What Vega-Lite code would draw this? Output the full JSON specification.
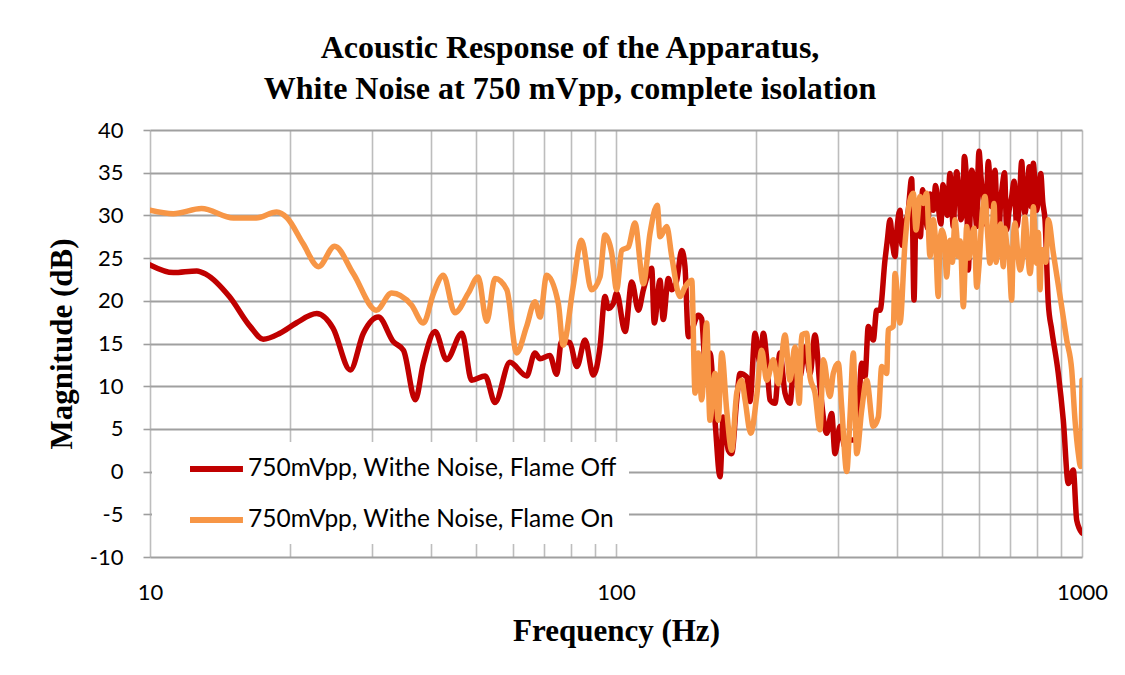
{
  "$schema": "https://vega.github.io/schema/vega-lite/v6.json",
  "width": 932,
  "height": 427,
  "autosize": "none",
  "padding": {"left": 150, "top": 130, "right": 43, "bottom": 118},
  "background": "white",
  "title": {
    "text": ["Acoustic Response of the Apparatus,", "White Noise at 750 mVpp, complete isolation"],
    "font": "Liberation Serif",
    "fontSize": 32,
    "fontWeight": "bold",
    "color": "black",
    "lineHeight": 41,
    "dx": -46,
    "offset": 13
  },
  "config": {
    "view": {"stroke": null},
    "axis": {"domain": false}
  },
  "datasets": {
    "pts": [
      {"f":10,"dB":24.2,"s":"Off"},{"f":11.22,"dB":23.3,"s":"Off"},{"f":12.6,"dB":23.5,"s":"Off"},{"f":13.2,"dB":23.1,"s":"Off"},{"f":14.8,"dB":20.5,"s":"Off"},{"f":16.4,"dB":17.0,"s":"Off"},{"f":17.5,"dB":15.5,"s":"Off"},{"f":19.0,"dB":16.2,"s":"Off"},{"f":20.6,"dB":17.4,"s":"Off"},{"f":22.8,"dB":18.5,"s":"Off"},{"f":24.7,"dB":16.8,"s":"Off"},{"f":26.9,"dB":11.9,"s":"Off"},{"f":28.7,"dB":16.2,"s":"Off"},{"f":30.9,"dB":18.1,"s":"Off"},{"f":33.3,"dB":15.2,"s":"Off"},{"f":35.0,"dB":14.2,"s":"Off"},{"f":37.1,"dB":8.4,"s":"Off"},{"f":38.6,"dB":12.7,"s":"Off"},{"f":40.9,"dB":16.4,"s":"Off"},{"f":43.3,"dB":13.1,"s":"Off"},{"f":46.7,"dB":16.2,"s":"Off"},{"f":49.0,"dB":10.7,"s":"Off"},{"f":52.4,"dB":11.2,"s":"Off"},{"f":55.0,"dB":8.1,"s":"Off"},{"f":59.2,"dB":12.8,"s":"Off"},{"f":64.3,"dB":11.2,"s":"Off"},{"f":67.0,"dB":13.9,"s":"Off"},{"f":68.7,"dB":13.2,"s":"Off"},{"f":72.1,"dB":13.6,"s":"Off"},{"f":74.6,"dB":11.4,"s":"Off"},{"f":76.4,"dB":15.3,"s":"Off"},{"f":79.6,"dB":15.1,"s":"Off"},{"f":82.4,"dB":12.3,"s":"Off"},{"f":85.8,"dB":15.4,"s":"Off"},{"f":89.4,"dB":11.3,"s":"Off"},{"f":92.4,"dB":14.6,"s":"Off"},{"f":94.7,"dB":20.5,"s":"Off"},{"f":96.3,"dB":19.1,"s":"Off"},{"f":98.7,"dB":19.7,"s":"Off"},{"f":100.3,"dB":20.9,"s":"Off"},{"f":104.6,"dB":16.4,"s":"Off"},{"f":108.1,"dB":22.2,"s":"Off"},{"f":111.7,"dB":18.9,"s":"Off"},{"f":114.5,"dB":21.3,"s":"Off"},{"f":119.3,"dB":23.8,"s":"Off"},{"f":120.8,"dB":17.4,"s":"Off"},{"f":124.3,"dB":22.4,"s":"Off"},{"f":126.3,"dB":17.8,"s":"Off"},{"f":129.5,"dB":22.6,"s":"Off"},{"f":131.7,"dB":21.3,"s":"Off"},{"f":135.0,"dB":22.4,"s":"Off"},{"f":138.4,"dB":25.9,"s":"Off"},{"f":140.6,"dB":24.0,"s":"Off"},{"f":143.0,"dB":15.8,"s":"Off"},{"f":150.2,"dB":18.3,"s":"Off"},{"f":152.7,"dB":17.9,"s":"Off"},{"f":155.2,"dB":13.1,"s":"Off"},{"f":159.1,"dB":13.9,"s":"Off"},{"f":163.1,"dB":6.0,"s":"Off"},{"f":167.2,"dB":-0.6,"s":"Off"},{"f":169.9,"dB":6.4,"s":"Off"},{"f":174.2,"dB":2.5,"s":"Off"},{"f":177.1,"dB":2.1,"s":"Off"},{"f":181.6,"dB":8.4,"s":"Off"},{"f":184.6,"dB":11.5,"s":"Off"},{"f":190.8,"dB":11.1,"s":"Off"},{"f":193.9,"dB":8.2,"s":"Off"},{"f":198.8,"dB":16.2,"s":"Off"},{"f":203.7,"dB":12.7,"s":"Off"},{"f":207.1,"dB":16.2,"s":"Off"},{"f":210.6,"dB":13.1,"s":"Off"},{"f":214.0,"dB":8.4,"s":"Off"},{"f":219.4,"dB":8.0,"s":"Off"},{"f":224.8,"dB":13.9,"s":"Off"},{"f":230.5,"dB":9.2,"s":"Off"},{"f":236.2,"dB":8.0,"s":"Off"},{"f":242.1,"dB":14.2,"s":"Off"},{"f":248.2,"dB":11.1,"s":"Off"},{"f":254.4,"dB":14.6,"s":"Off"},{"f":260.8,"dB":11.5,"s":"Off"},{"f":267.3,"dB":16.0,"s":"Off"},{"f":274.0,"dB":9.9,"s":"Off"},{"f":283.2,"dB":4.5,"s":"Off"},{"f":290.3,"dB":6.8,"s":"Off"},{"f":295.1,"dB":2.1,"s":"Off"},{"f":302.5,"dB":5.3,"s":"Off"},{"f":310.0,"dB":2.9,"s":"Off"},{"f":315.1,"dB":3.7,"s":"Off"},{"f":328.5,"dB":3.7,"s":"Off"},{"f":336.7,"dB":12.7,"s":"Off"},{"f":342.2,"dB":11.1,"s":"Off"},{"f":347.9,"dB":17.0,"s":"Off"},{"f":356.5,"dB":15.4,"s":"Off"},{"f":362.6,"dB":18.9,"s":"Off"},{"f":368.6,"dB":18.9,"s":"Off"},{"f":377.8,"dB":24.8,"s":"Off"},{"f":382,"dB":27.0,"s":"Off"},{"f":387.3,"dB":29.5,"s":"Off"},{"f":392,"dB":26.8,"s":"Off"},{"f":396.9,"dB":25.2,"s":"Off"},{"f":401,"dB":28.5,"s":"Off"},{"f":406.8,"dB":30.6,"s":"Off"},{"f":411,"dB":26.5,"s":"Off"},{"f":417.0,"dB":29.1,"s":"Off"},{"f":423,"dB":30.2,"s":"Off"},{"f":431.0,"dB":34.3,"s":"Off"},{"f":436.0,"dB":20.1,"s":"Off"},{"f":440,"dB":29.8,"s":"Off"},{"f":445.3,"dB":31.4,"s":"Off"},{"f":450,"dB":27.5,"s":"Off"},{"f":455,"dB":33.0,"s":"Off"},{"f":460.3,"dB":31.0,"s":"Off"},{"f":466,"dB":28.5,"s":"Off"},{"f":472,"dB":32.5,"s":"Off"},{"f":479.6,"dB":30.6,"s":"Off"},{"f":485,"dB":33.5,"s":"Off"},{"f":491.6,"dB":31.0,"s":"Off"},{"f":498,"dB":29.0,"s":"Off"},{"f":503,"dB":33.6,"s":"Off"},{"f":508.2,"dB":32.2,"s":"Off"},{"f":514,"dB":30.0,"s":"Off"},{"f":520.8,"dB":34.9,"s":"Off"},{"f":525,"dB":31.5,"s":"Off"},{"f":529.4,"dB":28.7,"s":"Off"},{"f":534,"dB":33.0,"s":"Off"},{"f":538.4,"dB":35.1,"s":"Off"},{"f":545,"dB":32.5,"s":"Off"},{"f":550.0,"dB":29.5,"s":"Off"},{"f":555,"dB":31.0,"s":"Off"},{"f":559.1,"dB":36.9,"s":"Off"},{"f":565,"dB":34.0,"s":"Off"},{"f":570.2,"dB":23.6,"s":"Off"},{"f":575,"dB":29.5,"s":"Off"},{"f":579.8,"dB":35.3,"s":"Off"},{"f":587,"dB":33.0,"s":"Off"},{"f":594.3,"dB":28.7,"s":"Off"},{"f":597,"dB":33.5,"s":"Off"},{"f":601.2,"dB":37.5,"s":"Off"},{"f":607,"dB":34.5,"s":"Off"},{"f":614.0,"dB":31.8,"s":"Off"},{"f":621,"dB":29.0,"s":"Off"},{"f":629.4,"dB":36.3,"s":"Off"},{"f":635,"dB":33.5,"s":"Off"},{"f":640.0,"dB":31.0,"s":"Off"},{"f":645,"dB":33.8,"s":"Off"},{"f":650.6,"dB":35.3,"s":"Off"},{"f":656,"dB":30.5,"s":"Off"},{"f":661.3,"dB":25.6,"s":"Off"},{"f":668,"dB":31.0,"s":"Off"},{"f":675.8,"dB":33.8,"s":"Off"},{"f":682,"dB":35.0,"s":"Off"},{"f":689.3,"dB":28.3,"s":"Off"},{"f":697,"dB":30.5,"s":"Off"},{"f":706.5,"dB":32.2,"s":"Off"},{"f":715,"dB":34.0,"s":"Off"},{"f":724.2,"dB":28.7,"s":"Off"},{"f":733,"dB":31.0,"s":"Off"},{"f":742.3,"dB":36.3,"s":"Off"},{"f":748,"dB":33.0,"s":"Off"},{"f":754.5,"dB":30.2,"s":"Off"},{"f":762,"dB":32.5,"s":"Off"},{"f":770.7,"dB":35.7,"s":"Off"},{"f":778,"dB":31.0,"s":"Off"},{"f":786.1,"dB":36.1,"s":"Off"},{"f":793,"dB":33.5,"s":"Off"},{"f":799.4,"dB":30.6,"s":"Off"},{"f":807,"dB":32.5,"s":"Off"},{"f":815.4,"dB":34.9,"s":"Off"},{"f":824,"dB":31.5,"s":"Off"},{"f":832.9,"dB":29.5,"s":"Off"},{"f":846.6,"dB":19.7,"s":"Off"},{"f":861.0,"dB":16.6,"s":"Off"},{"f":889.4,"dB":11.5,"s":"Off"},{"f":911.8,"dB":6.0,"s":"Off"},{"f":934.6,"dB":-1.4,"s":"Off"},{"f":957.9,"dB":0.2,"s":"Off"},{"f":974.2,"dB":-5.7,"s":"Off"},{"f":1000,"dB":-7.2,"s":"Off"},
      {"f":10,"dB":30.6,"s":"On"},{"f":11.22,"dB":30.2,"s":"On"},{"f":12.9,"dB":30.8,"s":"On"},{"f":15.1,"dB":29.7,"s":"On"},{"f":16.9,"dB":29.7,"s":"On"},{"f":18.7,"dB":30.4,"s":"On"},{"f":19.7,"dB":29.7,"s":"On"},{"f":21.3,"dB":26.7,"s":"On"},{"f":23.0,"dB":24.0,"s":"On"},{"f":24.9,"dB":26.4,"s":"On"},{"f":27.3,"dB":23.2,"s":"On"},{"f":30.6,"dB":18.9,"s":"On"},{"f":33.0,"dB":20.9,"s":"On"},{"f":36.4,"dB":19.5,"s":"On"},{"f":38.6,"dB":17.4,"s":"On"},{"f":40.6,"dB":20.9,"s":"On"},{"f":42.6,"dB":23.0,"s":"On"},{"f":45.1,"dB":18.6,"s":"On"},{"f":48.2,"dB":20.9,"s":"On"},{"f":50.6,"dB":22.8,"s":"On"},{"f":52.8,"dB":17.6,"s":"On"},{"f":55.0,"dB":22.6,"s":"On"},{"f":58.3,"dB":21.3,"s":"On"},{"f":61.2,"dB":13.9,"s":"On"},{"f":64.3,"dB":17.0,"s":"On"},{"f":67.0,"dB":19.9,"s":"On"},{"f":68.7,"dB":18.1,"s":"On"},{"f":71.0,"dB":23.0,"s":"On"},{"f":75.2,"dB":19.7,"s":"On"},{"f":77.0,"dB":14.8,"s":"On"},{"f":80.9,"dB":21.6,"s":"On"},{"f":84.3,"dB":27.1,"s":"On"},{"f":88.6,"dB":21.3,"s":"On"},{"f":92.4,"dB":22.8,"s":"On"},{"f":94.7,"dB":27.7,"s":"On"},{"f":97.9,"dB":25.6,"s":"On"},{"f":100.3,"dB":21.3,"s":"On"},{"f":102.9,"dB":25.9,"s":"On"},{"f":106.3,"dB":26.3,"s":"On"},{"f":109.8,"dB":29.1,"s":"On"},{"f":114.5,"dB":22.0,"s":"On"},{"f":118.3,"dB":27.9,"s":"On"},{"f":122.6,"dB":31.2,"s":"On"},{"f":124.3,"dB":27.5,"s":"On"},{"f":128.5,"dB":28.7,"s":"On"},{"f":131.7,"dB":25.2,"s":"On"},{"f":137.2,"dB":20.5,"s":"On"},{"f":140.6,"dB":21.6,"s":"On"},{"f":145.4,"dB":22.4,"s":"On"},{"f":147.8,"dB":9.2,"s":"On"},{"f":150.2,"dB":13.9,"s":"On"},{"f":152.7,"dB":8.4,"s":"On"},{"f":156.5,"dB":17.4,"s":"On"},{"f":159.1,"dB":6.0,"s":"On"},{"f":163.1,"dB":11.5,"s":"On"},{"f":165.7,"dB":6.0,"s":"On"},{"f":168.6,"dB":13.9,"s":"On"},{"f":172.8,"dB":7.2,"s":"On"},{"f":177.1,"dB":2.5,"s":"On"},{"f":181.6,"dB":9.2,"s":"On"},{"f":186.1,"dB":10.7,"s":"On"},{"f":189.2,"dB":8.4,"s":"On"},{"f":194.6,"dB":4.5,"s":"On"},{"f":200.4,"dB":8.8,"s":"On"},{"f":205.4,"dB":14.2,"s":"On"},{"f":210.6,"dB":10.7,"s":"On"},{"f":217.6,"dB":13.1,"s":"On"},{"f":223.0,"dB":10.3,"s":"On"},{"f":230.5,"dB":16.0,"s":"On"},{"f":236.2,"dB":10.7,"s":"On"},{"f":242.1,"dB":14.6,"s":"On"},{"f":247.3,"dB":8.0,"s":"On"},{"f":250.3,"dB":16.0,"s":"On"},{"f":256.5,"dB":16.2,"s":"On"},{"f":260.8,"dB":11.1,"s":"On"},{"f":267.3,"dB":9.2,"s":"On"},{"f":274.0,"dB":4.9,"s":"On"},{"f":278.5,"dB":13.1,"s":"On"},{"f":287.9,"dB":8.8,"s":"On"},{"f":292.6,"dB":11.5,"s":"On"},{"f":299.9,"dB":12.7,"s":"On"},{"f":305.0,"dB":7.6,"s":"On"},{"f":312.7,"dB":0.0,"s":"On"},{"f":317.8,"dB":6.4,"s":"On"},{"f":323.0,"dB":13.9,"s":"On"},{"f":328.5,"dB":2.1,"s":"On"},{"f":336.7,"dB":7.2,"s":"On"},{"f":345.1,"dB":10.7,"s":"On"},{"f":356.5,"dB":5.3,"s":"On"},{"f":365.5,"dB":6.4,"s":"On"},{"f":371.7,"dB":12.3,"s":"On"},{"f":381.0,"dB":11.5,"s":"On"},{"f":384.0,"dB":16.6,"s":"On"},{"f":393.7,"dB":17.0,"s":"On"},{"f":396.9,"dB":23.2,"s":"On"},{"f":406.8,"dB":17.4,"s":"On"},{"f":417.0,"dB":26.7,"s":"On"},{"f":427.4,"dB":31.8,"s":"On"},{"f":434.5,"dB":32.6,"s":"On"},{"f":440.4,"dB":28.3,"s":"On"},{"f":449.2,"dB":32.2,"s":"On"},{"f":456.5,"dB":31.4,"s":"On"},{"f":464.2,"dB":32.6,"s":"On"},{"f":471.9,"dB":25.2,"s":"On"},{"f":479.6,"dB":29.5,"s":"On"},{"f":485,"dB":27.0,"s":"On"},{"f":491.6,"dB":20.5,"s":"On"},{"f":495,"dB":26.0,"s":"On"},{"f":500.0,"dB":28.3,"s":"On"},{"f":506,"dB":27.5,"s":"On"},{"f":512.5,"dB":22.8,"s":"On"},{"f":516,"dB":25.0,"s":"On"},{"f":520.8,"dB":27.1,"s":"On"},{"f":527,"dB":24.5,"s":"On"},{"f":533.9,"dB":29.5,"s":"On"},{"f":538,"dB":28.0,"s":"On"},{"f":542.6,"dB":25.2,"s":"On"},{"f":548,"dB":27.0,"s":"On"},{"f":556.4,"dB":19.3,"s":"On"},{"f":561,"dB":24.0,"s":"On"},{"f":565.7,"dB":28.7,"s":"On"},{"f":572,"dB":25.0,"s":"On"},{"f":579.8,"dB":27.5,"s":"On"},{"f":587,"dB":28.5,"s":"On"},{"f":594.3,"dB":21.6,"s":"On"},{"f":601,"dB":24.0,"s":"On"},{"f":609.3,"dB":29.5,"s":"On"},{"f":619.2,"dB":32.2,"s":"On"},{"f":627,"dB":28.0,"s":"On"},{"f":634.7,"dB":24.4,"s":"On"},{"f":641,"dB":27.5,"s":"On"},{"f":647.4,"dB":31.4,"s":"On"},{"f":654,"dB":24.5,"s":"On"},{"f":661.3,"dB":27.1,"s":"On"},{"f":669,"dB":29.0,"s":"On"},{"f":677.8,"dB":24.0,"s":"On"},{"f":683,"dB":28.5,"s":"On"},{"f":689.3,"dB":26.7,"s":"On"},{"f":697,"dB":25.5,"s":"On"},{"f":706.5,"dB":20.1,"s":"On"},{"f":712,"dB":27.0,"s":"On"},{"f":718.1,"dB":29.1,"s":"On"},{"f":727,"dB":26.0,"s":"On"},{"f":736.2,"dB":23.6,"s":"On"},{"f":745,"dB":25.0,"s":"On"},{"f":754.5,"dB":29.8,"s":"On"},{"f":764,"dB":26.0,"s":"On"},{"f":773.4,"dB":23.2,"s":"On"},{"f":780,"dB":25.5,"s":"On"},{"f":786.1,"dB":31.0,"s":"On"},{"f":793,"dB":27.5,"s":"On"},{"f":799.4,"dB":24.4,"s":"On"},{"f":806,"dB":28.0,"s":"On"},{"f":812.6,"dB":21.3,"s":"On"},{"f":819,"dB":26.0,"s":"On"},{"f":826.0,"dB":25.9,"s":"On"},{"f":836,"dB":24.5,"s":"On"},{"f":846.6,"dB":29.5,"s":"On"},{"f":867.8,"dB":25.6,"s":"On"},{"f":904.5,"dB":19.3,"s":"On"},{"f":927.3,"dB":15.4,"s":"On"},{"f":950.5,"dB":11.9,"s":"On"},{"f":966.1,"dB":6.0,"s":"On"},{"f":982.0,"dB":2.1,"s":"On"},{"f":993,"dB":0.6,"s":"On"},{"f":1000,"dB":10.7,"s":"On"}
    ]
  },
  "data": {"name": "pts"},
  "mark": {"type": "line", "strokeWidth": 5.5, "interpolate": "monotone", "strokeJoin": "round", "strokeCap": "round", "clip": true},
  "encoding": {
    "x": {
      "field": "f",
      "type": "quantitative",
      "scale": {"type": "log", "domain": [10, 1000], "nice": false},
      "axis": {
        "values": [10, 20, 30, 40, 50, 60, 70, 80, 90, 100, 200, 300, 400, 500, 600, 700, 800, 900, 1000],
        "labelExpr": "(datum.value == 10 || datum.value == 100 || datum.value == 1000) ? format(datum.value, 'd') : ''",
        "labelOverlap": false,
        "labelFlush": false,
        "labelBound": false,
        "ticks": false,
        "labelPadding": 25,
        "labelFont": "Lato",
        "labelFontSize": 22,
        "labelColor": "black",
        "grid": true,
        "gridColor": "#BDBDBD",
        "gridWidth": 1.6,
        "title": "Frequency (Hz)",
        "titleFont": "Liberation Serif",
        "titleFontSize": 31,
        "titleFontWeight": "bold",
        "titleColor": "black",
        "titlePadding": 13
      }
    },
    "y": {
      "field": "dB",
      "type": "quantitative",
      "scale": {"domain": [-10, 40], "nice": false, "zero": false},
      "axis": {
        "values": [-10, -5, 0, 5, 10, 15, 20, 25, 30, 35, 40],
        "labelExpr": "datum.value + ''",
        "tickSize": 7,
        "tickColor": "#9E9E9E",
        "tickWidth": 1.6,
        "labelPadding": 20,
        "labelFont": "Lato",
        "labelFontSize": 22,
        "labelColor": "black",
        "grid": true,
        "gridColor": "#A0A0A0",
        "gridWidth": 1.8,
        "title": "Magnitude (dB)",
        "titleFont": "Liberation Serif",
        "titleFontSize": 31,
        "titleFontWeight": "bold",
        "titleColor": "black",
        "titlePadding": 11
      }
    },
    "color": {
      "field": "s",
      "type": "nominal",
      "scale": {"domain": ["Off", "On"], "range": ["#C00000", "#F79646"]},
      "legend": {
        "orient": "none",
        "legendX": 2,
        "legendY": 312,
        "title": null,
        "fillColor": "white",
        "padding": 12,
        "symbolType": "M0.917,0H5.33",
        "symbolSize": 576,
        "symbolStrokeWidth": 6,
        "labelFont": "Lato",
        "labelFontSize": 24.5,
        "labelColor": "black",
        "labelOffset": 54,
        "rowPadding": 24,
        "labelLimit": 0,
        "labelExpr": "'750mVpp, Withe Noise, Flame ' + datum.label"
      }
    }
  }
}
